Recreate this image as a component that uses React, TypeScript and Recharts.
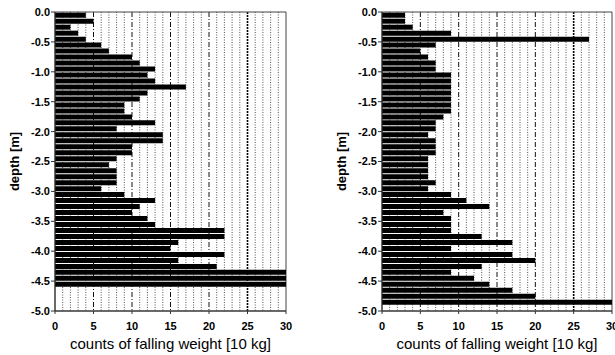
import React from 'react';
import { BarChart, Bar, XAxis, YAxis, CartesianGrid } from 'recharts';

// centre depth of each 0.1 m interval [m]
const depthMid = [
  -0.05, -0.15, -0.25, -0.35, -0.45, -0.55, -0.65, -0.75, -0.85, -0.95,
  -1.05, -1.15, -1.25, -1.35, -1.45, -1.55, -1.65, -1.75, -1.85, -1.95,
  -2.05, -2.15, -2.25, -2.35, -2.45, -2.55, -2.65, -2.75, -2.85, -2.95,
  -3.05, -3.15, -3.25, -3.35, -3.45, -3.55, -3.65, -3.75, -3.85, -3.95,
  -4.05, -4.15, -4.25, -4.35, -4.45, -4.55, -4.65, -4.75, -4.85, -4.95,
];

const leftCounts: (number | null)[] = [
  4, 5, 2, 3, 4, 6, 7, 10, 11, 13,
  12, 13, 17, 12, 11, 9, 9, 10, 13, 8,
  14, 14, 10, 10, 8, 7, 8, 8, 8, 6,
  9, 13, 11, 10, 12, 13, 22, 22, 16, 15,
  22, 16, 21, 30, 30, 30, null, null, null, null,
];

const rightCounts: (number | null)[] = [
  3, 3, 4, 9, 27, 7, 5, 6, 7, 7,
  9, 9, 9, 9, 9, 9, 9, 8, 7, 7,
  6, 7, 7, 7, 6, 6, 6, 6, 7, 6,
  9, 11, 14, 8, 9, 9, 9, 13, 17, 9,
  17, 20, 13, 9, 12, 14, 17, 20, 30, null,
];

const depthTicks = [0, -0.5, -1, -1.5, -2, -2.5, -3, -3.5, -4, -4.5, -5];
const countTicks = [0, 5, 10, 15, 20, 25, 30];
const minorGrid = [1, 2, 3, 4, 6, 7, 8, 9, 11, 12, 13, 14, 16, 17, 18, 19, 21, 22, 23, 24, 26, 27, 28, 29];
const majorGrid = [5, 10, 15, 20];
const heavyGrid = [25];
const frameX = [0, 30];
const frameY = [0, -5];

const FONT = '"Liberation Sans", Arial, Helvetica, sans-serif';

function buildRows(counts: (number | null)[]) {
  return depthMid.map((depth, i) => ({ depth, count: counts[i] }));
}

type PanelProps = { counts: (number | null)[]; width: number; marginLeft: number; marginRight: number };

function Panel({ counts, width, marginLeft, marginRight }: PanelProps) {
  const data = buildRows(counts);
  const tickStyle = { fontSize: 11, fontWeight: 700, fill: '#000', fontFamily: FONT };
  return (
    <BarChart
      width={width}
      height={355}
      layout="vertical"
      data={data}
      margin={{ top: 12, right: marginRight, bottom: 0, left: marginLeft }}
      barCategoryGap="12%"
    >
      <CartesianGrid horizontal={false} verticalValues={minorGrid} stroke="#555" strokeDasharray="1 1.5" strokeWidth={1} />
      <CartesianGrid horizontal={false} verticalValues={majorGrid} stroke="#111" strokeDasharray="5 2 1 2" strokeWidth={1} />
      <CartesianGrid horizontal={false} verticalValues={heavyGrid} stroke="#000" strokeDasharray="2 1" strokeWidth={1.6} />
      <CartesianGrid horizontalValues={frameY} verticalValues={frameX} stroke="#444" strokeWidth={1} />
      <XAxis
        type="number"
        domain={[0, 30]}
        ticks={countTicks}
        interval={0}
        allowDataOverflow
        height={44}
        tickSize={3}
        tickMargin={8}
        axisLine={{ stroke: '#333' }}
        tickLine={{ stroke: '#333' }}
        tick={tickStyle}
        label={{ value: 'counts of falling weight [10 kg]', position: 'insideBottom', offset: 6, style: { fontSize: 15, fill: '#000', fontFamily: FONT } }}
      />
      <YAxis
        type="number"
        dataKey="depth"
        domain={[-5, 0]}
        reversed
        allowDataOverflow
        ticks={depthTicks}
        interval={0}
        width={55}
        tickSize={4}
        tickMargin={1}
        tickFormatter={(v: number) => v.toFixed(1)}
        axisLine={{ stroke: '#333' }}
        tickLine={{ stroke: '#333' }}
        tick={tickStyle}
        label={{ value: 'depth [m]', angle: -90, position: 'insideLeft', offset: 14, style: { textAnchor: 'middle', fontSize: 13, fontWeight: 700, fill: '#000', fontFamily: FONT } }}
      />
      <Bar dataKey="count" fill="#000" isAnimationActive={false} />
    </BarChart>
  );
}

export default function App() {
  return (
    <div style={{ position: 'absolute', left: 0, top: 0, width: 615, height: 355, background: '#fff', overflow: 'hidden' }}>
      <div style={{ position: 'absolute', left: 0, top: 0 }}>
        <Panel counts={leftCounts} width={305} marginLeft={0} marginRight={19} />
      </div>
      <div style={{ position: 'absolute', left: 305, top: 0 }}>
        <Panel counts={rightCounts} width={310} marginLeft={22} marginRight={3} />
      </div>
    </div>
  );
}
